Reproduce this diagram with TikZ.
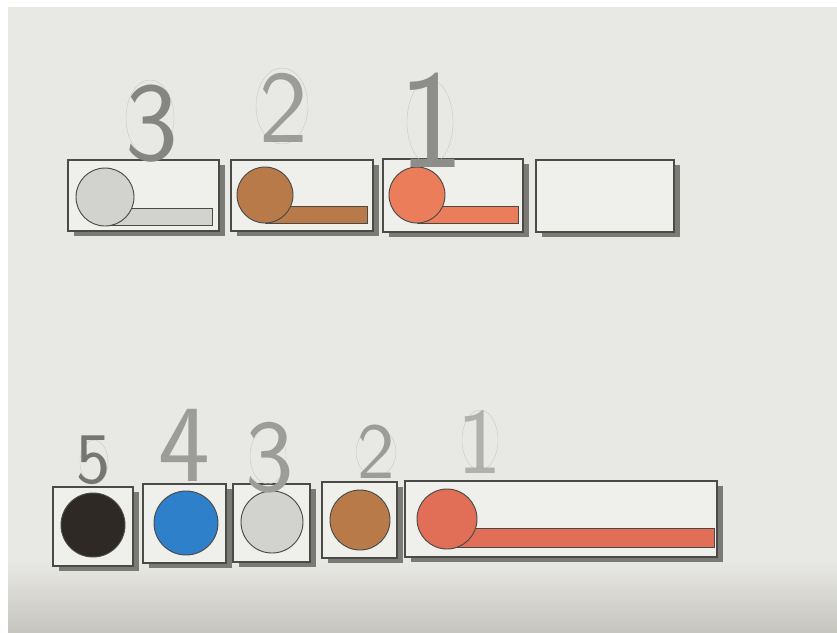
\documentclass[tikz,border=0pt]{standalone}
\usepackage{fontspec}
\usetikzlibrary{shadows}
\definecolor{paper}{HTML}{E8E8E5}
\definecolor{paperlow}{HTML}{C6C5BE}
\definecolor{tilefill}{HTML}{EFEFEC}
\definecolor{edge}{HTML}{4A4A47}
\definecolor{shadowgray}{HTML}{7B7A75}
\definecolor{pebble}{HTML}{D2D2CE}
\definecolor{clay}{HTML}{B97A4A}
\definecolor{coral}{HTML}{EC7D5A}
\definecolor{coraldark}{HTML}{E16E56}
\definecolor{sky}{HTML}{2F80CB}
\definecolor{soot}{HTML}{2F2925}
\definecolor{pencil}{HTML}{9C9C98}
\tikzset{
  tile/.style={draw=edge, fill=tilefill, line width=0.9pt, inner sep=0pt,
    drop shadow={shadow xshift=0.18cm, shadow yshift=-0.16cm, fill=shadowgray, opacity=1}},
  disc/.style={draw=edge, line width=0.8pt},
  digit/.style={text=pencil, inner sep=0pt, font=\sffamily},
  loop/.style={draw=pencil!55, line width=0.35pt}
}
\begin{document}
\begin{tikzpicture}[x=0.03cm, y=-0.03cm]
  % paper
  \fill[white] (0,0) rectangle (837,632);
  \fill[paper] (8,7) rectangle (837,560);
  \shade[top color=paper, bottom color=paperlow] (8,560) rectangle (837,632);
  \useasboundingbox (0,0) rectangle (837,632);

  % top row
  \node[tile, minimum width=4.53cm, minimum height=2.13cm] (t3) at (143.5,195.5) {};
  \node[tile, minimum width=4.26cm, minimum height=2.13cm] (t2) at (302,195.5) {};
  \node[tile, minimum width=4.20cm, minimum height=2.19cm] (t1) at (453,195.5) {};
  \node[tile, minimum width=4.14cm, minimum height=2.16cm] (t0) at (605,196) {};

  \filldraw[disc, fill=pebble] (105,208) rectangle (212,225);
  \filldraw[disc, fill=pebble] (105,197) circle (29);
  \filldraw[disc, fill=clay] (265,206) rectangle (367,223);
  \filldraw[disc, fill=clay] (265,195) circle (28);
  \filldraw[disc, fill=coral] (417,206) rectangle (518,223);
  \filldraw[disc, fill=coral] (417,195) circle (28);

  % pencil marks, top
  \draw[loop] (150,118) ellipse (24 and 38);
  \draw[loop] (282,106) ellipse (26 and 38);
  \draw[loop] (430,122) ellipse (23 and 42);
  \node[digit, text=pencil!85!black, font=\sffamily\fontsize{96}{96}\selectfont] (n3) at (152,124) {3};
  \node[digit, font=\sffamily\fontsize{88}{88}\selectfont] (n2) at (284,108) {2};
  \node[digit, text=pencil!90!black, font=\sffamily\fontsize{120}{120}\selectfont] (n1) at (432,120) {1};

  % bottom row
  \node[tile, minimum width=2.40cm, minimum height=2.37cm] (b5) at (93,526.5) {};
  \node[tile, minimum width=2.49cm, minimum height=2.37cm] (b4) at (184.5,523.5) {};
  \node[tile, minimum width=2.31cm, minimum height=2.34cm] (b3) at (271.5,523) {};
  \node[tile, minimum width=2.25cm, minimum height=2.28cm] (b2) at (359.5,520) {};
  \node[tile, minimum width=9.36cm, minimum height=2.28cm] (b1) at (561,519) {};

  \filldraw[disc, fill=soot] (93,525) circle (32);
  \filldraw[disc, fill=sky] (186,523) circle (32);
  \filldraw[disc, fill=pebble] (272,522) circle (31);
  \filldraw[disc, fill=clay] (360,520) circle (30);
  \filldraw[disc, fill=coraldark] (447,528) rectangle (714,547);
  \filldraw[disc, fill=coraldark] (447,519) circle (30);

  % pencil marks, bottom
  \draw[loop] (94,462) ellipse (14 and 22);
  \draw[loop] (268,456) ellipse (18 and 28);
  \draw[loop] (376,452) ellipse (20 and 24);
  \draw[loop] (480,440) ellipse (18 and 30);
  \node[digit, text=pencil!75!black, font=\sffamily\fontsize{62}{62}\selectfont] (m5) at (94,460) {5};
  \node[digit, font=\sffamily\fontsize{94}{94}\selectfont] (m4) at (184,445) {4};
  \node[digit, font=\sffamily\fontsize{88}{88}\selectfont] (m3) at (270,458) {3};
  \node[digit, font=\sffamily\fontsize{68}{68}\selectfont] (m2) at (376,452) {2};
  \node[digit, text=pencil!80, font=\sffamily\fontsize{80}{80}\selectfont] (m1) at (480,442) {1};
\end{tikzpicture}
\end{document}
